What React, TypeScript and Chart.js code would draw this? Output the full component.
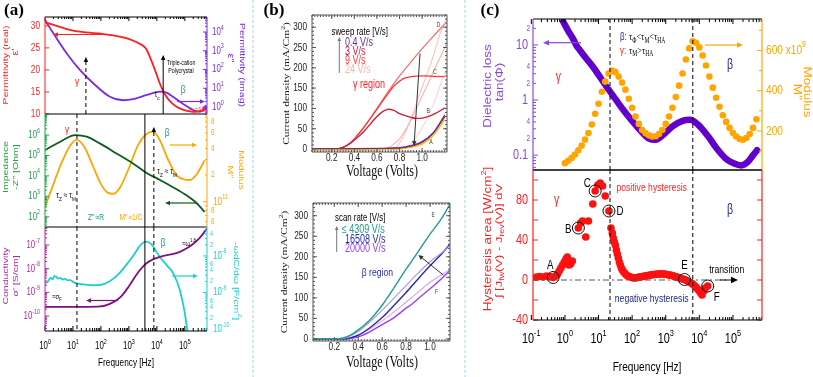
import React, { useEffect, useRef } from 'react';
import { Chart, registerables } from 'chart.js';

Chart.register(...registerables);

const W = 813;
const H = 377;
const SANS = '"Liberation Sans", Arial, Helvetica, sans-serif';
const SERIF = '"Liberation Serif", "Times New Roman", serif';
const SQ = 0.75;
const HP = Math.PI / 2;

const RED = '#ff1f1f';
const A_PURPLE = '#7b2be6';
const A_GREEN_AX = '#22a045';
const A_GREEN = '#0d5c1f';
const ORANGE = '#ffa500';
const A_MAG_AX = '#b0289c';
const A_MAG = '#80107e';
const CYAN = '#1ccfcf';
const TEAL = '#1a9a8a';
const NAVY = '#1f2a8c';
const C_PURPLE = '#6200cc';
const C_PURPLE_AX = '#8a4ae0';
const SEP = '#9fd3e3';
const B_AX = '#555555';

// ================= Panel (a) data =================
const aEpsRealFreq = [1, 2, 5, 10, 30, 100, 300, 800, 2000, 4000, 6000, 9000, 13000, 20000, 35000, 60000, 120000, 250000, 450000, 620000];
const aEpsRealVal = [30.8, 30.2, 29.4, 28.9, 28.5, 28.2, 27.8, 27.2, 26.2, 24.9, 22.5, 19.6, 16.8, 14.3, 12.4, 11.4, 10.7, 10.5, 10.9, 11.3];
const aEpsImagFreq = [1, 2, 6, 18, 54, 210, 630, 1400, 4300, 13000, 22000, 38000, 87000, 200000, 350000, 590000];
const aEpsImagVal = [44000, 8500, 720, 93, 18, 3.5, 2.3, 2.6, 4.4, 6.6, 5.8, 3.5, 1.45, 0.69, 0.56, 1.26];
const aZFreq = [1, 3.5, 12, 31, 91, 360, 1400, 4300, 13000, 38000, 115000, 250000, 510000];
const aZVal = [182000, 470000, 1000000, 830000, 390000, 126000, 41000, 14000, 6300, 2800, 1120, 500, 174];
const aMFreq = [1, 2, 4, 7.9, 13.5, 25, 50, 100, 178, 282, 500, 1000, 2000, 4000, 7400, 12600, 25000, 50000, 100000, 151000, 282000, 513000];
const aMVal = [8.7e10, 1.58e11, 2.8e11, 4.3e11, 5.0e11, 4.2e11, 2.6e11, 1.58e11, 1.26e11, 1.23e11, 1.48e11, 2.4e11, 4.2e11, 5.75e11, 6.2e11, 5.0e11, 3.0e11, 2.0e11, 1.78e11, 1.76e11, 2.1e11, 2.95e11];
const aSigFreq = [1, 10, 80, 200, 500, 1000, 2000, 4000, 8000, 16000, 32000, 63000, 126000, 250000, 400000, 620000];
const aSigVal = [2.45e-10, 2.45e-10, 2.5e-10, 3.2e-10, 6.3e-10, 1.8e-9, 6.3e-9, 1.6e-8, 2.6e-8, 3.4e-8, 4.0e-8, 5.0e-8, 7.6e-8, 1.4e-7, 2.5e-7, 5.0e-7];
const aCapFreq = [1, 1.26, 1.58, 1.86, 2.14, 2.51, 2.95, 3.55, 4.17, 5.01, 6.31, 7.94, 11.2, 20, 50, 100, 200, 398, 794, 1413, 2512, 3981, 6310, 12590, 22390, 38020, 66070, 100000, 131800];
const aCapVal = [1.78e-9, 2.0e-9, 2.51e-9, 2.29e-9, 2.82e-9, 2.69e-9, 2.4e-9, 2.51e-9, 2.24e-9, 2.4e-9, 2.19e-9, 2.19e-9, 1.86e-9, 1.7e-9, 1.58e-9, 1.62e-9, 2.0e-9, 3.02e-9, 5.62e-9, 1.0e-8, 1.91e-8, 2.45e-8, 2.09e-8, 9.55e-9, 5.62e-9, 3.39e-9, 1.17e-9, 2.69e-10, 6.31e-11];
const aFreqTickExp = [0, 1, 2, 3, 4, 5];

// ================= Panel (b) data =================
const bV_A1 = [0.02, 0.2, 0.4, 0.6, 0.8, 0.9, 1.0, 1.1, 1.2];
const bJ_A1 = [1, 1, 1, 1.5, 3, 8, 18, 40, 80];
const bV_A2 = [0.02, 0.4, 0.8, 0.9, 1.0, 1.1, 1.2];
const bJ_A2 = [-2, -2, 0, 4, 12, 34, 72];
const bV_A3 = [0.02, 0.5, 0.8, 0.9, 1.0, 1.1, 1.2];
const bJ_A3 = [0, 0, 2, 6, 16, 40, 84];
const bV_B = [0.02, 0.2, 0.26, 0.3, 0.36, 0.4, 0.45, 0.5, 0.6, 0.65, 0.7, 0.75, 0.8, 0.9, 0.95, 1.0, 1.1, 1.2];
const bJ_B = [0, 0, 1, 4, 13, 22, 34, 48, 80, 92, 98, 95, 87, 78, 75.5, 76, 85, 101];
const bV_C = [0.02, 0.2, 0.26, 0.3, 0.36, 0.4, 0.5, 0.6, 0.65, 0.7, 0.75, 0.8, 0.85, 0.9, 1.0, 1.1, 1.2];
const bJ_C = [0, 0, 1, 4, 14, 25, 59, 98, 118, 137, 155, 167, 175, 178, 180, 179, 178];
const bV_D = [0.02, 0.2, 0.26, 0.3, 0.36, 0.4, 0.5, 0.6, 0.7, 0.8, 0.9, 1.0, 1.1, 1.2];
const bJ_D = [0, 0, 1, 4, 14, 25, 60, 100, 142, 180, 214, 247, 278, 308];
const bV_R1 = [0.62, 0.69, 0.75, 0.8, 0.89, 0.95, 1.04, 1.1, 1.19, 1.22];
const bJ_R1 = [0, 2, 12, 25, 65, 100, 154, 190, 244, 262];
const bV_R2 = [0.7, 0.77, 0.85, 0.92, 0.98, 1.05, 1.1, 1.17, 1.22];
const bJ_R2 = [0, 5, 40, 90, 137, 190, 230, 293, 320];
const bV_R3 = [0.8, 0.88, 0.95, 1.02, 1.1, 1.17, 1.22];
const bJ_R3 = [0, 8, 30, 62, 110, 165, 200];

const bV_teal = [0.02, 0.2, 0.28, 0.35, 0.4, 0.5, 0.6, 0.7, 0.8, 0.9, 1.0, 1.1, 1.17];
const bJ_teal = [0, 0, 3, 12, 22, 47, 82, 125, 170, 212, 255, 295, 330];
const bV_lav = [0.02, 0.25, 0.3, 0.4, 0.5, 0.6, 0.7, 0.8, 0.9, 1.0, 1.1, 1.17];
const bJ_lav = [0, 0, 3, 18, 42, 70, 100, 130, 160, 188, 210, 228];
const bV_blue = [0.02, 0.28, 0.35, 0.4, 0.5, 0.6, 0.7, 0.8, 0.9, 1.0, 1.1, 1.17];
const bJ_blue = [0, 0, 4, 9, 28, 52, 82, 113, 146, 178, 208, 232];
const bV_pink = [0.02, 0.28, 0.4, 0.5, 0.6, 0.7, 0.8, 0.9, 1.0, 1.1, 1.17];
const bJ_pink = [0, 0, 10, 25, 44, 66, 90, 114, 138, 157, 170];
const bV_purp = [0.02, 0.3, 0.4, 0.5, 0.6, 0.7, 0.8, 0.85, 0.9, 1.0, 1.1, 1.17];
const bJ_purp = [0, 0, 5, 18, 35, 52, 75, 85, 98, 122, 148, 168];
const bXTicks = [0.2, 0.4, 0.6, 0.8, 1.0];
const bYTicks = [0, 50, 100, 150, 200, 250, 300];

// ================= Panel (c) data =================
const cTanFreq = [0.89, 1.26, 1.78, 2.24, 2.82, 3.98, 6.9, 11, 17.4, 31.6, 55, 100, 174, 316, 500, 850, 1585, 3162, 5370, 8900, 17800, 33100, 63100, 105000, 178000, 282000, 398000, 525000];
const cTanVal = [26.3, 17.8, 12.6, 9.55, 7.94, 6.03, 3.98, 2.63, 1.74, 1.05, 0.66, 0.417, 0.282, 0.2, 0.19, 0.234, 0.331, 0.417, 0.437, 0.363, 0.224, 0.132, 0.085, 0.071, 0.065, 0.076, 0.1, 0.123];
const cModExp = [0, 0.1, 0.2, 0.3, 0.4, 0.5, 0.6, 0.7, 0.8, 0.9, 1.0, 1.1, 1.2, 1.3, 1.4, 1.5, 1.6, 1.7, 1.8, 1.9, 2.0, 2.1, 2.2, 2.3, 2.4, 2.5, 2.6, 2.7, 2.8, 2.9, 3.0, 3.1, 3.2, 3.3, 3.4, 3.5, 3.6, 3.7, 3.8, 3.9, 4.0, 4.1, 4.2, 4.3, 4.4, 4.5, 4.6, 4.7, 4.8, 4.9, 5.0, 5.1, 5.2, 5.3, 5.4, 5.5, 5.6, 5.7];
const cModVal = [40, 52, 66, 83, 104, 128, 157, 190, 232, 285, 335, 395, 445, 485, 500, 492, 470, 440, 405, 360, 315, 272, 235, 205, 188, 178, 172, 174, 185, 205, 235, 272, 315, 368, 425, 485, 555, 610, 645, 638, 615, 575, 525, 470, 415, 365, 320, 278, 245, 215, 190, 172, 160, 156, 165, 185, 215, 258];
const cHystExp = [
  -0.85, -0.75, -0.65, -0.55, -0.45, -0.35, -0.28, -0.22, -0.17, -0.12, -0.07, -0.02, 0.03, 0.07, 0.12, 0.17, 0.22,
  0.4, 0.47, 0.52, 0.62, 0.7, 0.83, 0.9, 0.98, 1.05, 1.12, 1.2, 1.31, 1.37, 1.41, 1.44, 1.47, 1.5, 1.53, 1.56, 1.59, 1.62, 1.65, 1.68, 1.71,
  1.75, 1.79, 1.83, 1.87, 1.91, 1.95, 1.99, 2.03, 2.07, 2.11, 2.15, 2.19, 2.23, 2.27, 2.31, 2.35, 2.39, 2.43, 2.47, 2.51,
  2.55, 2.59, 2.63, 2.67, 2.71, 2.75, 2.79, 2.83, 2.87, 2.91, 2.95, 2.99, 3.03, 3.07, 3.11, 3.15, 3.19, 3.23, 3.27, 3.31,
  3.35, 3.39, 3.43, 3.47, 3.51, 3.56, 3.6, 3.64, 3.68, 3.72, 3.76, 3.8, 3.84, 3.88, 3.92, 3.96, 4.0, 4.04, 4.08, 4.13, 4.18, 4.25,
];
const cHystVal = [
  3, 3.5, 3, 4, 3.5, 2.5, 4, 6, 9, 12, 15, 18, 21, 23, 15, 16, 19,
  52, 57, 59, 43, 59, 76, 89, 95, 97, 94, 84, 69, 52, 47, 42, 38, 35, 30, 26, 22, 18, 15, 12, 10,
  8, 6.5, 5, 4, 3.5, 3, 2.5, 2.2, 2, 2.2, 2.5, 2.8, 3, 3.3, 3.5, 3.8, 4, 4.3, 4.5, 4.8,
  5, 5.3, 5.5, 5.5, 5.7, 5.8, 6, 6, 6, 6, 5.9, 5.7, 5.5, 5.2, 5, 4.7, 4.4, 4, 3.5, 3.1,
  2.8, 2.3, 1.8, 1.3, 0.9, 0.5, -0.2, -0.8, -1.5, -2.3, -3, -4, -5.2, -6.5, -8, -9.5, -11, -13, -15, -11, -8, -6,
];
const cMarkLabels = ['A', 'B', 'C', 'D', 'E', 'F'];
const cMarkExp = [-0.35, 0.4, 0.9, 1.31, 3.56, 4.25];
const cFreqTickExp = [-1, 0, 1, 2, 3, 4, 5];

// ================= helpers =================
const pts = (xs: number[], ys: number[]) => xs.map((x, i) => ({ x, y: ys[i] }));
const pow10 = (es: number[]) => es.map((e) => Math.pow(10, e));
function logTicks(e0: number, e1: number) {
  const major: number[] = [];
  const minor: number[] = [];
  for (let e = e0; e <= e1; e++) {
    major.push(Math.pow(10, e));
    for (let k = 2; k <= 9; k++) minor.push(k * Math.pow(10, e));
  }
  return { major, minor };
}
function steps(a: number, b: number, s: number) {
  const o: number[] = [];
  for (let v = a; v <= b + s * 1e-6; v += s) o.push(+v.toFixed(6));
  return o;
}

type Part = { t: string; k: number };
function parseRich(s: string): Part[] {
  const out: Part[] = [];
  let i = 0;
  let buf = '';
  while (i < s.length) {
    const c = s[i];
    if ((c === '^' || c === '_') && s[i + 1] === '{') {
      if (buf) { out.push({ t: buf, k: 0 }); buf = ''; }
      const j = s.indexOf('}', i + 2);
      out.push({ t: s.slice(i + 2, j), k: c === '^' ? 1 : 2 });
      i = j + 1;
    } else { buf += c; i++; }
  }
  if (buf) out.push({ t: buf, k: 0 });
  return out;
}

class Drawer {
  chart: any; ctx: any; area: any;
  constructor(chart: any) { this.chart = chart; this.ctx = chart.ctx; this.area = chart.chartArea; }
  X(v: number, id = 'x') { return this.chart.scales[id].getPixelForValue(v); }
  Y(v: number, id = 'y') { return this.chart.scales[id].getPixelForValue(v); }
  inR(v: number, id: string) {
    const s = this.chart.scales[id];
    const e = Math.abs(s.max - s.min) * 1e-6;
    return v >= s.min - e && v <= s.max + e;
  }
  line(x1: number, y1: number, x2: number, y2: number, color: string, w = 1, dash: number[] = []) {
    const c = this.ctx;
    c.save(); c.strokeStyle = color; c.lineWidth = w; c.setLineDash(dash);
    c.beginPath(); c.moveTo(x1, y1); c.lineTo(x2, y2); c.stroke(); c.restore();
  }
  arrow(x1: number, y1: number, x2: number, y2: number, color: string, w = 1, head = 5, dash: number[] = []) {
    const a = Math.atan2(y2 - y1, x2 - x1);
    const bx = x2 - head * Math.cos(a);
    const by = y2 - head * Math.sin(a);
    this.line(x1, y1, bx, by, color, w, dash);
    const c = this.ctx;
    const hw = head * 0.45;
    c.save(); c.fillStyle = color; c.beginPath(); c.moveTo(x2, y2);
    c.lineTo(bx + hw * Math.sin(a), by - hw * Math.cos(a));
    c.lineTo(bx - hw * Math.sin(a), by + hw * Math.cos(a));
    c.closePath(); c.fill(); c.restore();
  }
  ring(x: number, y: number, r: number, color: string, w = 1) {
    const c = this.ctx;
    c.save(); c.strokeStyle = color; c.lineWidth = w; c.beginPath(); c.arc(x, y, r, 0, Math.PI * 2); c.stroke(); c.restore();
  }
  text(s: string, x: number, y: number, o: any = {}) {
    const c = this.ctx;
    const size = o.size ?? 10;
    const fam = o.fam ?? SANS;
    const wt = o.bold ? 'bold ' : '';
    const parts = parseRich(s);
    const fontFor = (k: number) => `${wt}${k ? size * 0.68 : size}px ${fam}`;
    c.save();
    c.translate(x, y);
    c.scale(o.sq ?? SQ, 1);
    if (o.rot) c.rotate(o.rot);
    let total = 0;
    const ws = parts.map((p) => { c.font = fontFor(p.k); const m = c.measureText(p.t).width; total += m; return m; });
    let cx = o.align === 'left' ? 0 : o.align === 'right' ? -total : -total / 2;
    c.textBaseline = 'middle';
    c.textAlign = 'left';
    c.fillStyle = o.color ?? '#000';
    parts.forEach((p, i) => {
      c.font = fontFor(p.k);
      const dy = p.k === 1 ? -size * 0.42 : p.k === 2 ? size * 0.32 : 0;
      c.fillText(p.t, cx, dy);
      cx += ws[i];
    });
    c.restore();
  }
  ticksX(vals: number[], side: string, len: number, color: string, id = 'x', w = 1) {
    const y0 = side === 'bottom' ? this.area.bottom : this.area.top;
    const dir = side === 'bottom' ? -1 : 1;
    vals.forEach((v) => { if (this.inR(v, id)) { const x = this.X(v, id); this.line(x, y0, x, y0 + dir * len, color, w); } });
  }
  ticksY(vals: number[], side: string, len: number, color: string, id = 'y', w = 1) {
    const x0 = side === 'left' ? this.area.left : this.area.right;
    const dir = side === 'left' ? 1 : -1;
    vals.forEach((v) => { if (this.inR(v, id)) { const y = this.Y(v, id); this.line(x0, y, x0 + dir * len, y, color, w); } });
  }
  frame(f: any, w = 1) {
    const { left: L, right: R, top: T, bottom: B } = this.area;
    if (f.t) this.line(L, T, R, T, f.t, w);
    if (f.b) this.line(L, B, R, B, f.b, w);
    if (f.l) this.line(L, T, L, B, f.l, w);
    if (f.r) this.line(R, T, R, B, f.r, w);
  }
}

function lineDs(data: any[], color: string, yAxisID = 'y', width = 1.6, extra: any = {}) {
  return { data, borderColor: color, backgroundColor: color, borderWidth: width, showLine: true, pointRadius: 0, cubicInterpolationMode: 'monotone', xAxisID: 'x', yAxisID, fill: false, ...extra };
}
function dotDs(data: any[], color: string, r: number, yAxisID = 'y') {
  return { data, showLine: false, pointRadius: r, backgroundColor: color, borderColor: color, pointBorderWidth: 0, borderWidth: 0, xAxisID: 'x', yAxisID };
}

interface Spec { L: number; T: number; R: number; B: number; scales: any; datasets: any[]; draw: (d: Drawer) => void; }

function makeChart(canvas: HTMLCanvasElement, s: Spec) {
  const plugin = {
    id: 'deco',
    afterDraw(chart: any) { chart.ctx.save(); s.draw(new Drawer(chart)); chart.ctx.restore(); },
  };
  return new Chart(canvas, {
    type: 'scatter',
    data: { datasets: s.datasets },
    options: {
      responsive: false,
      maintainAspectRatio: false,
      animation: false,
      devicePixelRatio: 1,
      events: [],
      layout: { padding: { left: s.L, top: s.T, right: W - s.R, bottom: H - s.B } },
      plugins: { legend: { display: false }, tooltip: { enabled: false } },
      scales: s.scales,
    },
    plugins: [plugin],
  } as any);
}

// ================= Panel (a) =================
const aX = { type: 'logarithmic', min: 1, max: 6.2e5, display: false };
const A_T_GAMMA = 13.9;
const A_T_C = 3730;
const A_T_BETA = 7800;

const specA1: Spec = {
  L: 45, T: 17, R: 207, B: 114,
  scales: {
    x: aX,
    y: { type: 'linear', min: 10, max: 32, display: false },
    y2: { type: 'logarithmic', min: 0.424, max: 63100, display: false, position: 'right' },
  },
  datasets: [
    lineDs(pts(aEpsRealFreq, aEpsRealVal), RED, 'y', 1.8),
    lineDs(pts(aEpsImagFreq, aEpsImagVal), A_PURPLE, 'y2', 1.8),
  ],
  draw: (d) => {
    d.line(253, 0, 253, H, SEP, 1, [3, 2]);
    d.line(465, 0, 465, H, SEP, 1, [3, 2]);
    d.text('(a)', 14, 11, { size: 17, fam: SERIF, bold: true, sq: 1 });
    const ax = logTicks(0, 5);
    d.ticksX(ax.major, 'top', 4, '#000');
    d.ticksX(ax.minor, 'top', 2, '#000');
    const lt = [10, 15, 20, 25, 30];
    d.ticksY(lt, 'left', 4, RED);
    const ry = logTicks(-1, 4);
    d.ticksY(ry.major, 'right', 4, A_PURPLE, 'y2');
    d.ticksY(ry.minor, 'right', 2, A_PURPLE, 'y2');
    d.frame({ t: '#000', b: '#000', l: RED, r: A_PURPLE });
    lt.forEach((v) => d.text(String(v), 40, d.Y(v), { size: 11, color: RED, align: 'right' }));
    [0, 1, 2, 3, 4].forEach((e) => d.text(`10^{${e}}`, 212, d.Y(Math.pow(10, e), 'y2'), { size: 10.5, color: A_PURPLE, align: 'left' }));
    d.text('Permittivity (real)', 6, 65, { size: 10.5, color: RED, rot: -HP });
    d.text("ε'", 16, 52, { size: 11, color: RED, rot: -HP });
    d.text('Permittivity (imag)', 242, 65, { size: 10.5, color: A_PURPLE, rot: HP });
    d.text("ε''", 230.5, 58, { size: 11, color: A_PURPLE, rot: HP });
    d.text('Triple-cation', 181, 63, { size: 7 });
    d.text('Polycrystal', 181, 71, { size: 7 });
    d.text('γ', 77, 82, { size: 11, color: RED });
    d.arrow(d.X(29), 114, d.X(29), 57, '#000', 1, 5, [4, 3]);
    d.arrow(d.X(16800), 114, d.X(16800), 55, '#000', 1, 5);
    d.text('τ_{c}', 157, 95, { size: 9 });
    d.text('β', 183, 90, { size: 11, color: TEAL });
    d.arrow(110, 34.5, 53, 34.5, RED, 1.2, 5);
    d.arrow(177, 101.5, 205, 101.5, A_PURPLE, 1.2, 5);
    d.text('ε_{∞}=13', 197, 110, { size: 8, color: RED });
  },
};

const specA2: Spec = {
  L: 45, T: 114, R: 207, B: 227,
  scales: {
    x: aX,
    y: { type: 'logarithmic', min: 31.6, max: 1.07e7, display: false },
    y2: { type: 'logarithmic', min: 5.18e10, max: 9.8e11, display: false, position: 'right' },
  },
  datasets: [
    lineDs(pts(aZFreq, aZVal), A_GREEN, 'y', 1.8),
    lineDs(pts(aMFreq, aMVal), ORANGE, 'y2', 1.8),
  ],
  draw: (d) => {
    const ly = logTicks(1, 7);
    d.ticksY(ly.major, 'left', 4, A_GREEN_AX);
    d.ticksY(ly.minor, 'left', 2, A_GREEN_AX);
    const ry = logTicks(10, 11);
    d.ticksY(ry.major, 'right', 4, ORANGE, 'y2');
    d.ticksY(ry.minor, 'right', 2, ORANGE, 'y2');
    d.frame({ b: '#000', l: A_GREEN_AX, r: ORANGE });
    [2, 3, 4, 5, 6].forEach((e) => d.text(`10^{${e}}`, 40, d.Y(Math.pow(10, e)), { size: 10.5, color: A_GREEN_AX, align: 'right' }));
    ([[6e10, '6'], [8e10, '8'], [2e11, '2'], [4e11, '4'], [6e11, '6'], [8e11, '8']] as any[]).forEach(([v, s]) =>
      d.text(s, 211, d.Y(v, 'y2'), { size: 8.5, color: ORANGE, align: 'left' }));
    d.text('10^{11}', 213, d.Y(1e11, 'y2'), { size: 11, color: ORANGE, align: 'left' });
    d.text('Impedance', 6, 167, { size: 10.5, color: A_GREEN_AX, rot: -HP });
    d.text("-Z'' [Ohm]", 16, 167, { size: 10.5, color: A_GREEN_AX, rot: -HP });
    d.text('Modulus', 241, 170, { size: 10.5, color: ORANGE, rot: HP });
    d.text("M''", 230.5, 172, { size: 10.5, color: ORANGE, rot: HP });
    d.text('γ', 67, 130, { size: 11, color: RED });
    d.line(d.X(A_T_GAMMA), 114, d.X(A_T_GAMMA), 227, '#000', 1, [4, 3]);
    d.line(d.X(A_T_C), 114, d.X(A_T_C), 227, '#000', 1);
    d.arrow(d.X(A_T_BETA), 227, d.X(A_T_BETA), 127, '#000', 1, 5, [4, 3]);
    d.text('β', 167, 133, { size: 11, color: TEAL });
    d.text('τ_{Z} ≈ τ_{M}', 66, 196, { size: 9 });
    d.text('τ_{Z} ≈ τ_{M}', 167, 172, { size: 9 });
    d.arrow(170, 145, 197, 145, ORANGE, 1.2, 5);
    d.arrow(197, 203, 165, 203, A_GREEN, 1.2, 5);
    d.text("Z''∝R", 96, 218, { size: 9, color: TEAL });
    d.text("M''∝1/C", 131, 218, { size: 9, color: ORANGE });
  },
};

const specA3: Spec = {
  L: 45, T: 227, R: 207, B: 331,
  scales: {
    x: aX,
    y: { type: 'logarithmic', min: 2.34e-11, max: 5.75e-7, display: false },
    y2: { type: 'logarithmic', min: 8.9e-11, max: 6.17e-8, display: false, position: 'right' },
  },
  datasets: [
    lineDs(pts(aSigFreq, aSigVal), A_MAG, 'y', 1.8),
    lineDs(pts(aCapFreq, aCapVal), CYAN, 'y2', 1.8),
  ],
  draw: (d) => {
    const ax = logTicks(0, 5);
    d.ticksX(ax.major, 'bottom', 5, '#000');
    d.ticksX(ax.minor, 'bottom', 3, '#000');
    const ly = logTicks(-11, -7);
    d.ticksY(ly.major, 'left', 4, A_MAG_AX);
    d.ticksY(ly.minor, 'left', 2, A_MAG_AX);
    const ry = logTicks(-11, -8);
    d.ticksY(ry.major, 'right', 4, CYAN, 'y2');
    d.ticksY(ry.minor, 'right', 2, CYAN, 'y2');
    d.frame({ b: '#000', l: A_MAG_AX, r: CYAN });
    [-7, -8, -9, -10].forEach((e) => d.text(`10^{${e}}`, 40, d.Y(Math.pow(10, e)), { size: 10.5, color: A_MAG_AX, align: 'right' }));
    [-8, -9, -10].forEach((e) => d.text(`10^{${e}}`, 213, d.Y(Math.pow(10, e), 'y2'), { size: 10.5, color: CYAN, align: 'left' }));
    ([[2e-10, '2'], [4e-10, '4'], [6e-10, '6'], [2e-9, '2'], [4e-9, '4'], [6e-9, '6'], [2e-8, '2'], [4e-8, '4']] as any[]).forEach(([v, s]) =>
      d.text(s, 210, d.Y(v, 'y2'), { size: 7, color: CYAN, align: 'left' }));
    aFreqTickExp.forEach((e) => d.text(`10^{${e}}`, d.X(Math.pow(10, e)), 346, { size: 10.5 }));
    d.text('Frequency [Hz]', 126, 363, { size: 11 });
    d.text('Conductivity', 6, 276, { size: 10.5, color: A_MAG_AX, rot: -HP });
    d.text("σ' [S/cm]", 16, 276, { size: 10.5, color: A_MAG_AX, rot: -HP });
    d.text('-ωdC/dω [F/cm^{2}]', 236, 281, { size: 10.5, color: CYAN, rot: HP });
    d.line(d.X(A_T_GAMMA), 227, d.X(A_T_GAMMA), 331, '#000', 1, [4, 3]);
    d.line(d.X(A_T_C), 227, d.X(A_T_C), 331, '#000', 1);
    d.line(d.X(A_T_BETA), 227, d.X(A_T_BETA), 331, '#000', 1, [4, 3]);
    d.text('≈σ_{F}', 57, 297, { size: 8 });
    d.arrow(118, 300.5, 86, 300.5, A_MAG, 1.2, 5);
    d.arrow(172, 276, 198, 276, CYAN, 1.2, 5);
    d.text('β', 163, 243, { size: 11, color: TEAL });
    d.text('≈ω^{1.8}', 189, 244, { size: 8 });
  },
};

// ================= Panel (b) =================
function bAxes(d: Drawer, xLabY: number, yLabX: number) {
  const xmin = steps(0.025, 1.2, 0.025);
  const ymin = steps(0, 330, 10);
  d.ticksX(xmin, 'bottom', 2, B_AX); d.ticksX(xmin, 'top', 2, B_AX);
  d.ticksX(bXTicks, 'bottom', 4, B_AX); d.ticksX(bXTicks, 'top', 4, B_AX);
  d.ticksY(ymin, 'left', 2, B_AX); d.ticksY(ymin, 'right', 2, B_AX);
  d.ticksY(bYTicks, 'left', 4, B_AX); d.ticksY(bYTicks, 'right', 4, B_AX);
  d.frame({ t: B_AX, b: B_AX, l: B_AX, r: B_AX });
  bXTicks.forEach((v) => d.text(v.toFixed(1), d.X(v), xLabY, { size: 11, color: '#222' }));
  bYTicks.forEach((v) => d.text(String(v), yLabX, d.Y(v), { size: 11, color: '#222', align: 'right' }));
}

const specB1: Spec = {
  L: 312, T: 15, R: 447, B: 152,
  scales: {
    x: { type: 'linear', min: 0.025, max: 1.22, display: false },
    y: { type: 'linear', min: -7.4, max: 330, display: false },
  },
  datasets: [
    lineDs(pts(bV_A1, bJ_A1), '#6a2ca0', 'y', 1.4),
    lineDs(pts(bV_A2, bJ_A2), '#f0c000', 'y', 1.4),
    lineDs(pts(bV_A3, bJ_A3), '#c02848', 'y', 1.2),
    lineDs(pts(bV_B, bJ_B), '#d01c3c', 'y', 1.4),
    lineDs(pts(bV_C, bJ_C), '#ff3838', 'y', 1.3),
    lineDs(pts(bV_D, bJ_D), '#ff6a6a', 'y', 1.2),
    lineDs(pts(bV_R1, bJ_R1), '#ffb0b0', 'y', 1.1),
    lineDs(pts(bV_R2, bJ_R2), '#ffc2c2', 'y', 1.1),
    lineDs(pts(bV_R3, bJ_R3), '#ffd4d4', 'y', 1.1),
  ],
  draw: (d) => {
    d.text('(b)', 274, 11, { size: 17, fam: SERIF, bold: true, sq: 1 });
    bAxes(d, 158, 307);
    d.text('Current density (mA/Cm^{2})', 287, 83.5, { size: 11.5, fam: SERIF, rot: -HP, color: '#111' });
    d.text('Voltage (Volts)', 382, 172, { size: 16, fam: SERIF, color: '#111' });
    d.text('sweep rate [V/s]', 331.5, 32, { size: 10.5, align: 'left' });
    d.text('0.4 V/s', 345, 42.5, { size: 12, align: 'left', color: '#6a2ca0' });
    d.text('3 V/s', 345, 51.7, { size: 12, align: 'left', color: '#d01c3c' });
    d.text('9 V/s', 345, 61, { size: 12, align: 'left', color: '#ff4040' });
    d.text('24 V/s', 345, 70, { size: 12, align: 'left', color: '#ffb0b0' });
    d.arrow(339.3, 73, 339.3, 37, '#777', 1, 4);
    d.text('γ region', 353, 85, { size: 12, align: 'left', color: RED });
    d.arrow(420, 53.5, 414, 146, '#333', 1, 5);
    d.text('D', 438.3, 25, { size: 7, color: '#444' });
    d.text('C', 435, 71.7, { size: 7, color: '#444' });
    d.text('B', 428.3, 110.7, { size: 7, color: '#444' });
    d.text('A', 431, 141.7, { size: 7, color: '#444' });
  },
};

const specB2: Spec = {
  L: 313, T: 203, R: 450, B: 341,
  scales: {
    x: { type: 'linear', min: 0.022, max: 1.167, display: false },
    y: { type: 'linear', min: -5, max: 331, display: false },
  },
  datasets: [
    lineDs(pts(bV_teal, bJ_teal), '#1f9e8e', 'y', 1.4),
    lineDs(pts(bV_lav, bJ_lav), '#a898e8', 'y', 1.1),
    lineDs(pts(bV_blue, bJ_blue), '#2a2ab0', 'y', 1.4),
    lineDs(pts(bV_pink, bJ_pink), '#d8a0f0', 'y', 1.1),
    lineDs(pts(bV_purp, bJ_purp), '#9a40f0', 'y', 1.4),
  ],
  draw: (d) => {
    bAxes(d, 347, 308);
    d.text('Current density (mA/Cm^{2})', 285, 272, { size: 11.5, fam: SERIF, rot: -HP, color: '#111' });
    d.text('Voltage (Volts)', 382, 363, { size: 16, fam: SERIF, color: '#111' });
    d.text('scan rate [V/s]', 335, 218.3, { size: 10.5, align: 'left' });
    d.text('≤ 4309 V/s', 341.7, 230, { size: 12, align: 'left', color: '#1f9e8e' });
    d.text('16508 V/s', 345, 239.3, { size: 12, align: 'left', color: '#2a2ab0' });
    d.text('20000 V/s', 345, 248.5, { size: 12, align: 'left', color: '#9a40f0' });
    d.arrow(336.7, 252, 336.7, 226, '#777', 1, 4);
    d.text('β region', 361.7, 272.7, { size: 11.5, align: 'left', color: '#2a2ab0' });
    d.arrow(443.3, 275, 418.3, 255, '#333', 1, 5);
    d.text('E', 433.3, 215, { size: 7, color: '#444' });
    d.text('F', 436.7, 291.7, { size: 7, color: '#444' });
  },
};

// ================= Panel (c) =================
const cX = { type: 'logarithmic', min: 0.1122, max: 733000, display: false };
const C_T1 = 22;
const C_T2 = 6400;

const specC1: Spec = {
  L: 533, T: 19, R: 762, B: 170,
  scales: {
    x: cX,
    y: { type: 'logarithmic', min: 0.0537, max: 29.5, display: false },
    y2: { type: 'linear', min: 6, max: 756, display: false, position: 'right' },
  },
  datasets: [
    dotDs(pts(pow10(cModExp), cModVal), ORANGE, 3.3, 'y2'),
    lineDs(pts(cTanFreq, cTanVal), C_PURPLE, 'y', 6.5, { borderCapStyle: 'round', borderJoinStyle: 'round' }),
  ],
  draw: (d) => {
    d.text('(c)', 490, 11, { size: 17, fam: SERIF, bold: true, sq: 1 });
    const ax = logTicks(-1, 5);
    d.ticksX(ax.major, 'top', 5, '#000');
    d.ticksX(ax.minor, 'top', 3, '#000');
    const ly = logTicks(-2, 1);
    d.ticksY(ly.major, 'left', 5, C_PURPLE_AX);
    d.ticksY(ly.minor, 'left', 3, C_PURPLE_AX);
    d.ticksY([200, 400, 600], 'right', 5, ORANGE, 'y2');
    d.ticksY([100, 300, 500, 700], 'right', 3, ORANGE, 'y2');
    d.frame({ t: '#000', b: '#000', l: C_PURPLE_AX, r: ORANGE }, 1.2);
    ([[10, '10'], [1, '1'], [0.1, '0.1']] as any[]).forEach(([v, s]) => d.text(s, 528, d.Y(v), { size: 14.5, color: C_PURPLE_AX, align: 'right' }));
    ([[20, '2'], [4, '4'], [2, '2'], [0.4, '4'], [0.2, '2']] as any[]).forEach(([v, s]) => d.text(s, 530, d.Y(v), { size: 8.5, color: C_PURPLE_AX, align: 'right' }));
    d.text('200', 766, d.Y(200, 'y2'), { size: 13.5, color: ORANGE, align: 'left' });
    d.text('400', 766, d.Y(400, 'y2'), { size: 13.5, color: ORANGE, align: 'left' });
    d.text('600 x10^{9}', 766, d.Y(600, 'y2'), { size: 13.5, color: ORANGE, align: 'left' });
    d.text('Dielectric loss', 488, 86, { size: 13.5, color: C_PURPLE_AX, rot: -HP });
    d.text('tan(Φ)', 500, 82, { size: 13.5, color: C_PURPLE_AX, rot: -HP });
    d.text('Modulus', 806.5, 92, { size: 13.5, color: ORANGE, rot: HP });
    d.text("M''", 797, 92, { size: 13.5, color: ORANGE, rot: HP });
    d.line(d.X(C_T1), 19, d.X(C_T1), 170, '#000', 1, [4, 3]);
    d.line(d.X(C_T2), 19, d.X(C_T2), 170, '#000', 1, [4, 3]);
    d.arrow(581, 42.7, 543, 42.7, C_PURPLE_AX, 1.2, 6);
    d.arrow(705, 45, 743, 45, ORANGE, 1.2, 6);
    d.text('β:', 620, 37.3, { size: 10.5, color: NAVY, align: 'left' });
    d.text('τ_{Φ}<τ_{M}<τ_{HA}', 629, 37.3, { size: 11, fam: SERIF, align: 'left' });
    d.text('γ:', 620, 50.7, { size: 10.5, color: RED, align: 'left' });
    d.text('τ_{M}>τ_{HA}', 629, 50.7, { size: 11, fam: SERIF, align: 'left' });
    d.text('γ', 558.3, 77.5, { size: 14, color: RED });
    d.text('β', 730, 65, { size: 14, color: NAVY });
  },
};

const specC2: Spec = {
  L: 533, T: 170, R: 762, B: 320,
  scales: {
    x: cX,
    y: { type: 'linear', min: -40, max: 110, display: false },
  },
  datasets: [dotDs(pts(pow10(cHystExp), cHystVal), '#ff1010', 3.8, 'y')],
  draw: (d) => {
    const ax = logTicks(-1, 5);
    d.ticksX(ax.major, 'bottom', 5, '#000');
    d.ticksX(ax.minor, 'bottom', 3, '#000');
    const yt = steps(-40, 100, 20);
    d.ticksY(yt, 'left', 5, RED);
    d.ticksY(yt, 'right', 5, RED);
    d.frame({ t: '#000', b: '#000', l: RED, r: RED }, 1.2);
    [80, 40, 0, -40].forEach((v) => d.text(String(v), 528, d.Y(v), { size: 14.5, color: RED, align: 'right' }));
    cFreqTickExp.forEach((e) => d.text(`10^{${e}}`, d.X(Math.pow(10, e)), 339, { size: 14.5 }));
    d.text('Frequency [Hz]', 647, 367.5, { size: 13.5 });
    d.text('Hysteresis area [W/cm^{2}]', 488, 239, { size: 13.5, color: RED, rot: -HP });
    d.text('∫ [J_{fw}(V) - J_{rev}(V)] dV', 499, 241, { size: 13, color: RED, rot: -HP });
    d.line(d.X(C_T1), 170, d.X(C_T1), 320, '#000', 1, [4, 3]);
    d.line(d.X(C_T2), 170, d.X(C_T2), 320, '#000', 1, [4, 3]);
    const y0 = d.Y(0);
    d.line(533, y0, 729, y0, '#555', 1, [6, 3, 2, 3]);
    d.arrow(720, y0, 738, y0, '#000', 1, 7);
    d.text('transition', 726.7, 270, { size: 11.5 });
    d.text('positive hysteresis', 651.7, 188.3, { size: 11.5, color: RED });
    d.text('negative hysteresis', 651.7, 299.3, { size: 11.5, color: NAVY });
    d.text('γ', 556.5, 200.5, { size: 14, color: RED });
    d.text('β', 730, 210, { size: 14, color: NAVY });
    const off = [[-3, -12], [-10, 1], [-8, -8], [11, 0], [0, -14], [9, 11]];
    cMarkExp.forEach((e, i) => {
      const idx = cHystExp.findIndex((v) => Math.abs(v - e) < 1e-9);
      const x = d.X(Math.pow(10, cHystExp[idx]));
      const y = d.Y(cHystVal[idx]);
      d.ring(x, y, 6, '#111', 1);
      d.text(cMarkLabels[i], x + off[i][0], y + off[i][1], { size: 13 });
    });
  },
};

const SPECS: Spec[] = [specA1, specA2, specA3, specB1, specB2, specC1, specC2];

export default function App() {
  const refs = useRef<(HTMLCanvasElement | null)[]>([]);
  useEffect(() => {
    const charts = SPECS.map((s, i) => makeChart(refs.current[i] as HTMLCanvasElement, s));
    return () => charts.forEach((c) => c.destroy());
  }, []);
  return (
    <div style={{ position: 'fixed', left: 0, top: 0, width: W, height: H, background: '#fff', overflow: 'hidden' }}>
      {SPECS.map((_, i) => (
        <canvas
          key={i}
          ref={(el) => { refs.current[i] = el; }}
          width={W}
          height={H}
          style={{ position: 'absolute', left: 0, top: 0, width: W, height: H }}
        />
      ))}
    </div>
  );
}
